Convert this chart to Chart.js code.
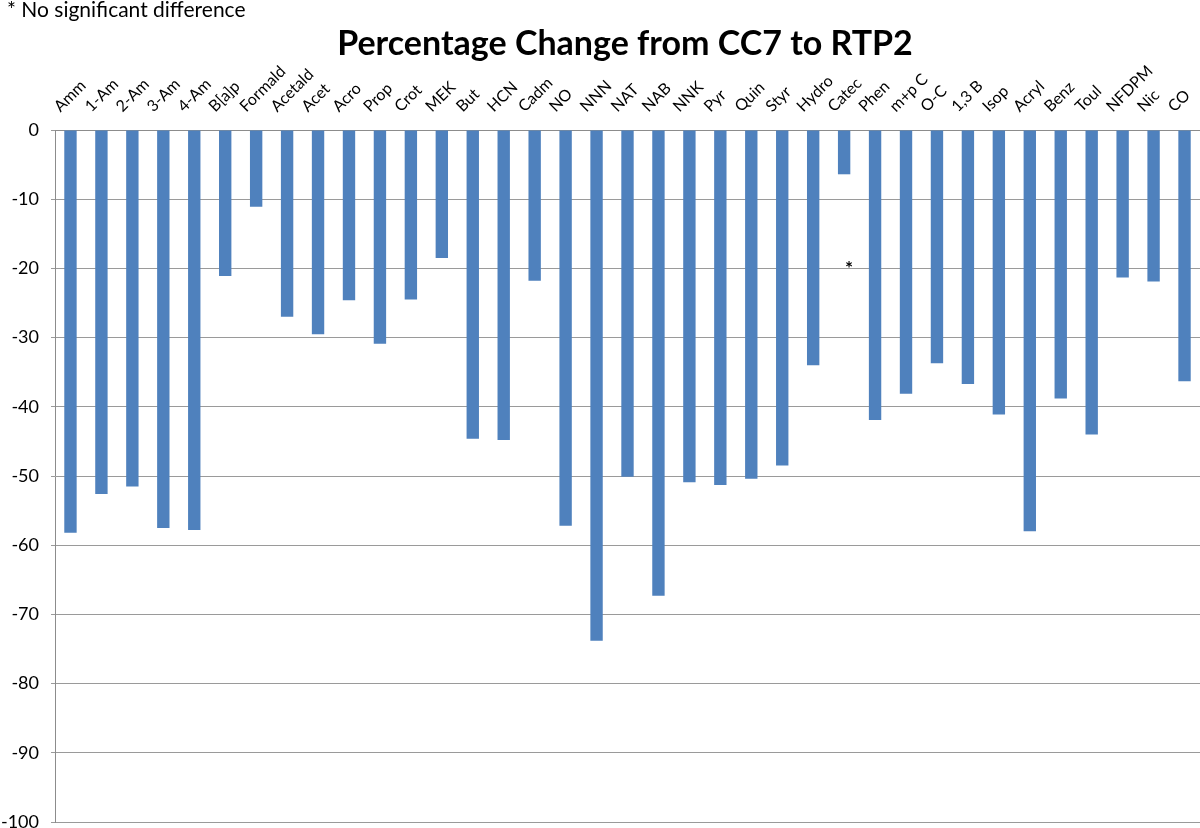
<!DOCTYPE html>
<html>
<head>
<meta charset="utf-8">
<script src="https://cdn.jsdelivr.net/npm/chart.js@4.4.1/dist/chart.umd.min.js"></script>
<style>
  html, body { margin: 0; padding: 0; background: #fff; }
  #wrap { position: relative; width: 1200px; height: 828px; font-family: Lato, "Open Sans", sans-serif; }
  #note { position: absolute; left: 7px; top: -4px; font-size: 21px; color: #000; }
  #title { position: absolute; left: 0; width: 1250px; top: 21px; text-align: center; font-size: 34px; font-weight: bold; color: #000; }
  canvas { position: absolute; left: 0; top: 0; }
</style>
</head>
<body>
<div id="wrap">
  <canvas id="chart" width="1200" height="828"></canvas>
  <div id="note">* No significant difference</div>
  <div id="title">Percentage Change from CC7 to RTP2</div>
</div>
<script>
const categories = ['Amm', '1-Am', '2-Am', '3-Am', '4-Am', 'B[a]p', 'Formald', 'Acetald', 'Acet', 'Acro',
  'Prop', 'Crot', 'MEK', 'But', 'HCN', 'Cadm', 'NO', 'NNN', 'NAT', 'NAB',
  'NNK', 'Pyr', 'Quin', 'Styr', 'Hydro', 'Catec', 'Phen', 'm+p C', 'O-C', '1,3 B',
  'Isop', 'Acryl', 'Benz', 'Toul', 'NFDPM', 'Nic', 'CO'];

const pctChange = [-58.2, -52.6, -51.5, -57.5, -57.8, -21.1, -11.1, -27.0, -29.5, -24.6,
  -30.9, -24.5, -18.5, -44.6, -44.8, -21.8, -57.2, -73.8, -50.1, -67.3,
  -50.9, -51.3, -50.4, -48.5, -34.0, -6.4, -41.9, -38.1, -33.7, -36.7,
  -41.1, -58.0, -38.8, -44.0, -21.3, -21.9, -36.3];

// "no significant difference" marker
const starCategory = 'Catec';
const starValue = -19.4;

const yMin = -100, yMax = 0, yStep = 10;

const starPlugin = {
  id: 'star',
  afterDatasetsDraw(chart) {
    const ctx = chart.ctx;
    const x = chart.scales.x.getPixelForValue(categories.indexOf(starCategory));
    const y = chart.scales.y.getPixelForValue(starValue);
    ctx.save();
    ctx.fillStyle = '#000';
    ctx.font = 'bold 19px Lato';
    ctx.textAlign = 'center';
    ctx.textBaseline = 'middle';
    ctx.fillText('*', x + 5, y + 5);
    ctx.restore();
  }
};

new Chart(document.getElementById('chart').getContext('2d'), {
  type: 'bar',
  data: {
    labels: categories,
    datasets: [{
      data: pctChange,
      backgroundColor: '#4F81BD',
      barPercentage: 0.8,
      categoryPercentage: 0.5
    }]
  },
  options: {
    responsive: false,
    animation: false,
    layout: { padding: { left: 0, right: 0, top: 0, bottom: 6 } },
    plugins: { legend: { display: false }, title: { display: false }, tooltip: { enabled: false } },
    scales: {
      x: {
        position: 'top',
        grid: { display: false },
        border: { display: true, color: '#8c8c8c', width: 1 },
        ticks: {
          color: '#000',
          font: { family: 'Lato', size: 16 },
          minRotation: 45,
          maxRotation: 45,
          autoSkip: false,
          padding: 6
        },
        afterFit(scale) {
          scale.height = 130;
          scale.paddingLeft = 0;
          scale.paddingRight = 0;
        }
      },
      y: {
        min: yMin,
        max: yMax,
        ticks: {
          stepSize: yStep,
          color: '#000',
          font: { family: 'Lato', size: 18 },
          padding: 12
        },
        grid: { color: '#9a9a9a', lineWidth: 1, tickLength: 4 },
        border: { display: true, color: '#8c8c8c', width: 1 },
        afterFit(scale) {
          scale.width = 55;
          scale.paddingTop = 0;
          scale.paddingBottom = 0;
        }
      }
    }
  },
  plugins: [starPlugin]
});
</script>
</body>
</html>
